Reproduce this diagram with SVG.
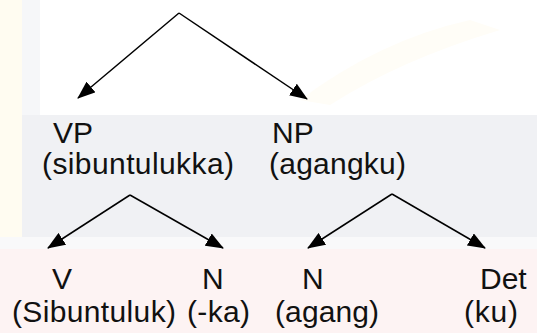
<svg xmlns="http://www.w3.org/2000/svg" width="537" height="333" viewBox="0 0 537 333">
  <defs>
    <marker id="arrow" viewBox="0 0 18 14" refX="17" refY="7" markerWidth="18" markerHeight="14" markerUnits="userSpaceOnUse" orient="auto">
      <path d="M0,0 L18,7 L0,14 Z" fill="#000"/>
    </marker>
    <style>
      .lbl { font-family: "Liberation Sans", Arial, sans-serif; font-size: 30px; fill: #111; }
      .edge { stroke: #000; stroke-width: 1.5; fill: none; marker-end: url(#arrow); }
    </style>
  </defs>

  <!-- background bands -->
  <rect x="0" y="0" width="537" height="333" fill="#ffffff"/>
  <rect x="0" y="0" width="22" height="237" fill="#fffcf1"/>
  <rect x="22" y="0" width="18" height="237" fill="#f6f7f9"/>
  <path d="M300,100 Q380,40 470,20 L500,30 Q400,60 330,105 Z" fill="#fffdf7"/>
  <rect x="22" y="115" width="515" height="123" fill="#f0f1f4"/>
  <rect x="0" y="237" width="537" height="12" fill="#f9f9fa"/>
  <rect x="0" y="249" width="537" height="84" fill="#fdf3f3"/>

  <!-- connectors -->
  <g id="connectors">
    <line class="edge" x1="179" y1="13" x2="78" y2="98"/>
    <line class="edge" x1="179" y1="13" x2="307" y2="99"/>
    <line class="edge" x1="130" y1="195" x2="48" y2="248"/>
    <line class="edge" x1="130" y1="195" x2="223" y2="248"/>
    <line class="edge" x1="392" y1="194" x2="308" y2="248"/>
    <line class="edge" x1="392" y1="194" x2="485" y2="248"/>
  </g>

  <!-- nodes -->
  <g id="vp">
    <text class="lbl" x="53" y="143">VP</text>
    <text class="lbl" x="42" y="174" textLength="192">(sibuntulukka)</text>
  </g>
  <g id="np">
    <text class="lbl" x="272" y="143">NP</text>
    <text class="lbl" x="269" y="174" textLength="137">(agangku)</text>
  </g>
  <g id="v">
    <text class="lbl" x="52" y="289">V</text>
    <text class="lbl" x="12" y="322" textLength="164">(Sibuntuluk)</text>
  </g>
  <g id="n1">
    <text class="lbl" x="202" y="289">N</text>
    <text class="lbl" x="187" y="322" textLength="63">(-ka)</text>
  </g>
  <g id="n2">
    <text class="lbl" x="302" y="289">N</text>
    <text class="lbl" x="275" y="322" textLength="104">(agang)</text>
  </g>
  <g id="det">
    <text class="lbl" x="480" y="289">Det</text>
    <text class="lbl" x="464" y="322" textLength="54">(ku)</text>
  </g>
</svg>
